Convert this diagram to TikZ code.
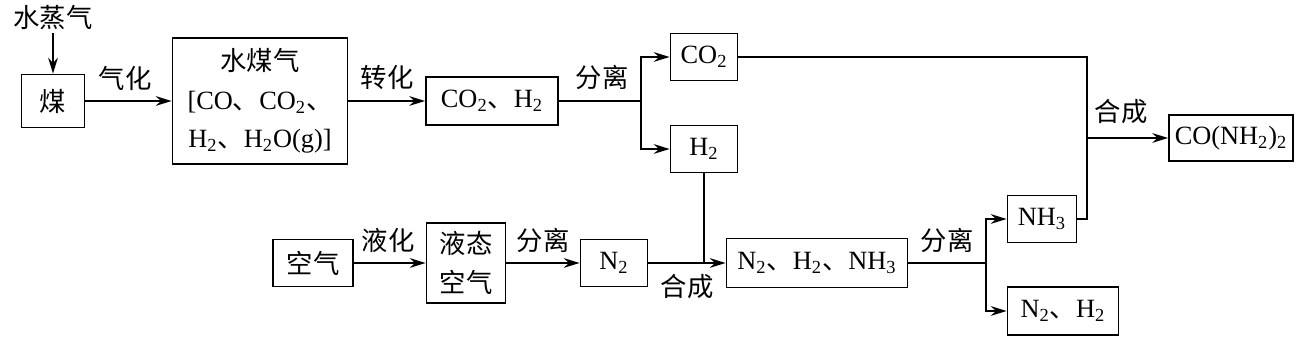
\documentclass[tikz,border=0pt]{standalone}
\usepackage{fontspec}
\setmainfont{Liberation Serif}
\newfontfamily\cjk[Scale=1.0]{Noto Sans CJK SC}
\usetikzlibrary{arrows.meta}
\newcommand{\dn}{{\cjk 、}}
\begin{document}
\begin{tikzpicture}[x=0.02cm, y=-0.02cm, line width=1pt, >={Stealth[length=9pt,width=5.5pt]},
	every node/.style={inner sep=1pt, font=\fontsize{15}{22}\selectfont},
	box/.style args={#1/#2}{draw, align=center, minimum width=#1*0.02cm, minimum height=#2*0.02cm}]
	\useasboundingbox (0,0) rectangle (1303,337);
	% upper row
	\node (sz) at (53,18) {\cjk 水蒸气};
	\node[box=63/53] (mei) at (53,101) {\cjk 煤};
	\node[box=175/126] (smq) at (260,101) {{\cjk 水煤气}\\{}[CO\dn CO\textsubscript{2}\dn\\H\textsubscript{2}\dn H\textsubscript{2}O(g)]};
	\node[box=132/48] (co2h2) at (492,101) {CO\textsubscript{2}\dn H\textsubscript{2}};
	\coordinate (j1) at (641,101);
	\node[box=67/47] (co2) at (704,57) {CO\textsubscript{2}};
	\node[box=67/47] (h2) at (704,149) {H\textsubscript{2}};
	% lower row
	\node[box=80/47] (kq) at (313,263) {\cjk 空气};
	\node[box=79/80] (ytkq) at (466,263) {{\cjk 液态}\\{\cjk 空气}};
	\node[box=67/47] (n2) at (614,263) {N\textsubscript{2}};
	\node[box=181/49] (mix) at (817,263) {N\textsubscript{2}\dn H\textsubscript{2}\dn NH\textsubscript{3}};
	\coordinate (j2) at (986,263);
	\node[box=69/47] (nh3) at (1042,219) {NH\textsubscript{3}};
	\node[box=111/48] (n2h2) at (1063,311) {N\textsubscript{2}\dn H\textsubscript{2}};
	\coordinate (j3) at (1087,138);
	\node[box=124/46] (urea) at (1231,138) {CO(NH\textsubscript{2})\textsubscript{2}};
	% labels
	\node (l1) at (125,78) {\cjk 气化};
	\node (l2) at (387,78) {\cjk 转化};
	\node (l3) at (602,77) {\cjk 分离};
	\node (l4) at (388,240) {\cjk 液化};
	\node (l5) at (543,240) {\cjk 分离};
	\node (l6) at (687,287) {\cjk 合成};
	\node (l7) at (947,240) {\cjk 分离};
	\node (l8) at (1121,112) {\cjk 合成};
	% connectors
	\draw[->] (sz)--(mei);
	\draw[->] (mei)--(smq);
	\draw[->] (smq)--(co2h2);
	\draw (co2h2)--(j1);
	\draw[->] (j1) |- (co2);
	\draw[->] (j1) |- (h2);
	\draw (h2)--(h2 |- mix);
	\draw[->] (kq)--(ytkq);
	\draw[->] (ytkq)--(n2);
	\draw[->] (n2)--(mix);
	\draw (mix)--(j2);
	\draw[->] (j2) |- (nh3);
	\draw[->] (j2) |- (n2h2);
	\draw (co2)--(co2 -| j3)--(nh3 -| j3)--(nh3);
	\draw[->] (j3)--(urea);
\end{tikzpicture}
\end{document}
